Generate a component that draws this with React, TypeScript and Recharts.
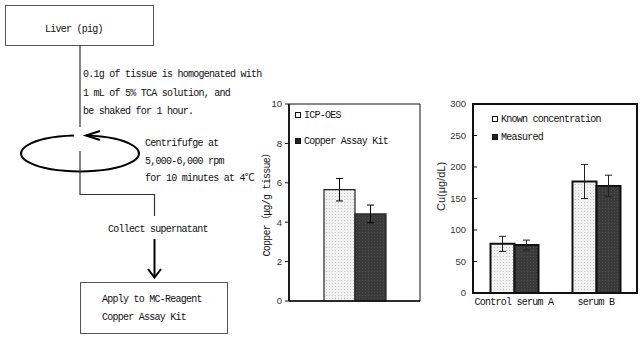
import React from 'react';
import { BarChart, Bar, XAxis, YAxis, ErrorBar, Legend, ReferenceArea } from 'recharts';

// Liver sample: ICP-OES vs kit (µg/g tissue)
const liverCategories = ['Liver (pig)'];
const icpOes = [5.65];
const icpOesSd = [0.57];
const assayKit = [4.42];
const assayKitSd = [0.45];
const liverTicks = [0, 2, 4, 6, 8, 10];

// Serum samples (µg/dL)
const serumCategories = ['Control serum A', 'serum B'];
const knownConc = [78, 177];
const knownConcSd = [12, 27];
const measured = [76, 170];
const measuredSd = [8, 17];
const serumTicks = [0, 50, 100, 150, 200, 250, 300];

const liverData = liverCategories.map((name, i) => ({
  name,
  icp: icpOes[i],
  icpErr: icpOesSd[i],
  kit: assayKit[i],
  kitErr: assayKitSd[i],
}));

const serumData = serumCategories.map((name, i) => ({
  name,
  known: knownConc[i],
  knownErr: knownConcSd[i],
  measured: measured[i],
  measuredErr: measuredSd[i],
}));

const MONO = "'Liberation Mono', 'Noto Sans CJK JP', monospace";
const SANS = "'Liberation Sans', Arial, sans-serif";
const monoStyle = { fontFamily: MONO, fontSize: 10, letterSpacing: -0.75, fill: '#111' };

function Patterns() {
  return (
    <defs>
      <pattern id="dotLight" width="3" height="3" patternUnits="userSpaceOnUse">
        <rect width="3" height="3" fill="#f2f2f2" />
        <rect x="1" y="1" width="1" height="1" fill="#c4c4c4" />
      </pattern>
      <pattern id="dotDark" width="3" height="3" patternUnits="userSpaceOnUse">
        <rect width="3" height="3" fill="#3a3a3a" />
        <rect x="1" y="1" width="1" height="1" fill="#505050" />
      </pattern>
    </defs>
  );
}

function makeLegend(labels: string[], rowGap: number) {
  return function LegendBox() {
    return (
      <div style={{ fontFamily: MONO, fontSize: 10, letterSpacing: -0.75, color: '#111' }}>
        {labels.map((label, i) => (
          <div key={label} style={{ display: 'flex', alignItems: 'center', height: 12, marginBottom: i === 0 ? rowGap : 0 }}>
            <span
              style={{
                display: 'inline-block',
                boxSizing: 'border-box',
                width: 6,
                height: 6,
                border: '1.2px solid #111',
                background: i === 0 ? '#fff' : '#222',
                marginRight: 3,
              }}
            />
            <span>{label}</span>
          </div>
        ))}
      </div>
    );
  };
}

const LiverLegend = makeLegend(['ICP-OES', 'Copper Assay Kit'], 14);
const SerumLegend = makeLegend(['Known concentration', 'Measured'], 6);

function Flowchart() {
  return (
    <svg width={640} height={341} style={{ position: 'absolute', left: 0, top: 0 }}>
      <rect x={5.5} y={5.5} width={148} height={40} fill="none" stroke="#555" strokeWidth={1} />
      <text x={45} y={31.5} style={monoStyle}>Liver (pig)</text>
      <line x1={80} y1={45} x2={80} y2={127} stroke="#333" strokeWidth={1.2} />
      <text x={83} y={77} style={monoStyle}>0.1g of tissue is homogenated with</text>
      <text x={83} y={95.5} style={monoStyle}>1 mL of 5% TCA solution, and</text>
      <text x={83} y={114} style={monoStyle}>be shaked for 1 hour.</text>
      <path d="M 86 135.5 A 59 18 0 1 1 74 135.5" fill="none" stroke="#000" strokeWidth={2} />
      <polyline points="100,131 86,135.5 100,140" fill="none" stroke="#000" strokeWidth={2} />
      <text x={145} y={146} style={monoStyle}>Centrifufge at</text>
      <text x={145} y={163.5} style={monoStyle}>5,000-6,000 rpm</text>
      <text x={145} y={181} style={monoStyle}>for 10 minutes at 4℃</text>
      <polyline points="80,151 80,194.5 154.5,194.5 154.5,216" fill="none" stroke="#333" strokeWidth={1.2} />
      <text x={108} y={232} style={monoStyle}>Collect supernatant</text>
      <line x1={154.5} y1={239} x2={154.5} y2={277} stroke="#000" strokeWidth={2} />
      <polyline points="148,269 154.5,277.5 161,269" fill="none" stroke="#000" strokeWidth={2} />
      <rect x={80.5} y={282.5} width={147} height={51} fill="none" stroke="#555" strokeWidth={1} />
      <text x={102} y={301.5} style={monoStyle}>Apply to MC-Reagent</text>
      <text x={102} y={320} style={monoStyle}>Copper Assay Kit</text>
    </svg>
  );
}

function LiverChart() {
  return (
    <div style={{ position: 'absolute', left: 250, top: 90 }}>
      <BarChart
        width={175}
        height={250}
        data={liverData}
        margin={{ top: 14, right: 5, bottom: 0, left: 0 }}
        barCategoryGap={35}
        barGap={0}
      >
        <Patterns />
        <XAxis dataKey="name" tick={false} tickLine={false} height={39} axisLine={{ stroke: '#111', strokeWidth: 1.5 }} />
        <YAxis
          domain={[0, 10]}
          ticks={liverTicks}
          width={39}
          tickSize={4}
          tickMargin={3}
          axisLine={{ stroke: '#111', strokeWidth: 1.8 }}
          tickLine={{ stroke: '#111' }}
          tick={{ fontFamily: SANS, fontSize: 9.5, fill: '#333' }}
          label={({ viewBox }: any) => (
            <text
              transform={`translate(${viewBox.x + 17},${viewBox.y + viewBox.height / 2}) rotate(-90)`}
              textAnchor="middle"
              dominantBaseline="middle"
              style={monoStyle}
            >
              Copper（μg/g tissue）
            </text>
          )}
        />
        <ReferenceArea y1={0} y2={10} fill="none" stroke="#111" strokeWidth={1} ifOverflow="visible" />
        <Legend
          layout="vertical"
          align="center"
          verticalAlign="middle"
          content={<LiverLegend />}
          wrapperStyle={{ left: 45, top: 19, width: 'auto' }}
        />
        <Bar dataKey="icp" name="ICP-OES" fill="url(#dotLight)" stroke="#222" strokeWidth={1.2} isAnimationActive={false}>
          <ErrorBar dataKey="icpErr" width={3.5} stroke="#000" strokeWidth={1} />
        </Bar>
        <Bar dataKey="kit" name="Copper Assay Kit" fill="url(#dotDark)" stroke="#222" strokeWidth={1.2} isAnimationActive={false}>
          <ErrorBar dataKey="kitErr" width={3.5} stroke="#000" strokeWidth={1} />
        </Bar>
      </BarChart>
    </div>
  );
}

function SerumChart() {
  return (
    <div style={{ position: 'absolute', left: 400, top: 90 }}>
      <BarChart
        width={240}
        height={250}
        data={serumData}
        margin={{ top: 14, right: 3, bottom: 0, left: 0 }}
        barCategoryGap={17.5}
        barGap={0}
      >
        <Patterns />
        <XAxis
          dataKey="name"
          height={47}
          tickLine={false}
          tickSize={0}
          tickMargin={5}
          axisLine={{ stroke: '#111', strokeWidth: 2 }}
          tick={{ fontFamily: MONO, fontSize: 10, letterSpacing: -0.75, fill: '#111' }}
          interval={0}
        />
        <YAxis
          domain={[0, 300]}
          ticks={serumTicks}
          width={73}
          tickSize={-4}
          tickMargin={11}
          axisLine={{ stroke: '#111', strokeWidth: 2 }}
          tickLine={{ stroke: '#111' }}
          tick={{ fontFamily: SANS, fontSize: 9.5, fill: '#333' }}
          label={({ viewBox }: any) => (
            <text
              transform={`translate(${viewBox.x + 42},${viewBox.y + viewBox.height / 2 - 12}) rotate(-90)`}
              textAnchor="middle"
              dominantBaseline="middle"
              style={{ fontFamily: SANS, fontSize: 11, fill: '#222' }}
            >
              Cu(μg/dL)
            </text>
          )}
        />
        <ReferenceArea y1={0} y2={300} fill="none" stroke="#111" strokeWidth={2} ifOverflow="visible" />
        <Legend
          layout="vertical"
          align="center"
          verticalAlign="middle"
          content={<SerumLegend />}
          wrapperStyle={{ left: 92, top: 23, width: 'auto' }}
        />
        <Bar dataKey="known" name="Known concentration" fill="url(#dotLight)" stroke="#111" strokeWidth={2} isAnimationActive={false}>
          <ErrorBar dataKey="knownErr" width={3.5} stroke="#222" strokeWidth={1} />
        </Bar>
        <Bar dataKey="measured" name="Measured" fill="url(#dotDark)" stroke="#111" strokeWidth={2} isAnimationActive={false}>
          <ErrorBar dataKey="measuredErr" width={3.5} stroke="#222" strokeWidth={1} />
        </Bar>
      </BarChart>
    </div>
  );
}

export default function App() {
  return (
    <div style={{ position: 'absolute', left: 0, top: 0, width: 640, height: 341, background: '#fff', overflow: 'hidden' }}>
      <Flowchart />
      <LiverChart />
      <SerumChart />
    </div>
  );
}
